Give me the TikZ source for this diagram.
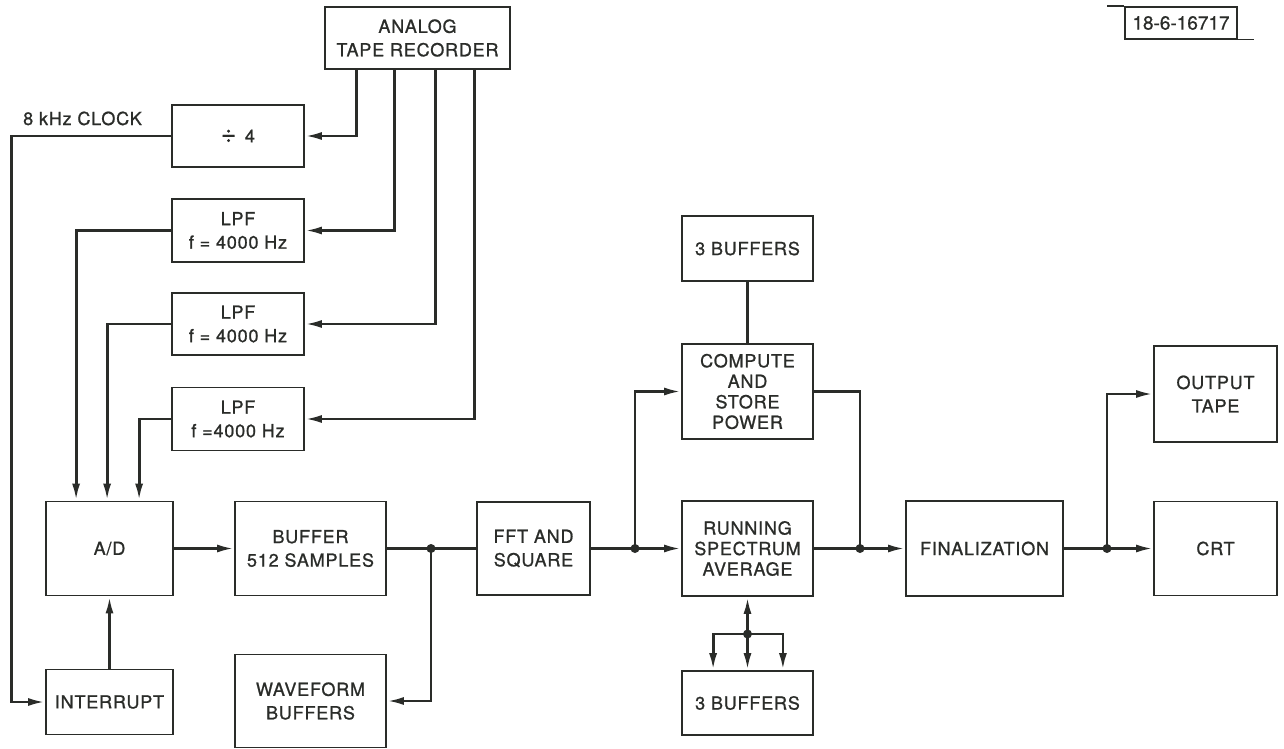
\documentclass[tikz,border=0pt]{standalone}
\usepackage{fontspec}
\setmainfont{TeX Gyre Heros}[LetterSpace=4.5, FakeBold=1]
\newfontfamily\lblfont{TeX Gyre Heros}[FakeBold=0.8]
\usetikzlibrary{arrows.meta,calc}
\definecolor{ink}{HTML}{2A2C29}
\tikzset{
  blk/.style={draw=ink, line width=1.8pt, text=ink, inner sep=0pt, align=center,
    font=\fontsize{18}{23.5}\selectfont},
  blkwh/.style 2 args={blk, minimum width=#1, minimum height=#2},
  tight/.style={font=\fontsize{18}{20.5}\selectfont},
  conn/.style={draw=ink, line width=2.8pt},
  arr/.style={-{Latex[length=17pt,width=8pt]}},
  dot/.style={circle, fill=ink, inner sep=0pt, minimum size=9pt}
}
\begin{document}
\begin{tikzpicture}[x=1pt,y=-1pt]
\useasboundingbox (0,0) rectangle (1284,749);
\fill[white] (0,0) rectangle (1284,749);

% blocks
\node[blkwh={185}{62}] (tape) at (417.5,38) {ANALOG\\TAPE RECORDER};
\node[blkwh={132}{62}] (div) at (238,136) {{\fontsize{26}{23}\selectfont÷}\, 4};
\node[blkwh={132}{63}] (lpf1) at (238,230.5) {LPF\\f = 4000 Hz};
\node[blkwh={132}{62}] (lpf2) at (238,324) {LPF\\f = 4000 Hz};
\node[blkwh={132}{63}] (lpf3) at (238,419) {LPF\\f =4000 Hz};
\node[blkwh={127}{94}] (ad) at (109.5,548.5) {A/D};
\node[blkwh={127}{65}] (intr) at (109.5,702) {INTERRUPT};
\node[blkwh={151}{94}] (buf) at (310.5,548.5) {BUFFER\\512 SAMPLES};
\node[blkwh={151}{93}] (wave) at (310.5,701) {WAVEFORM\\BUFFERS};
\node[blkwh={113}{93}] (fft) at (533.5,548.5) {FFT AND\\SQUARE};
\node[blkwh={131}{65}] (b3t) at (747.5,248.5) {3 BUFFERS};
\node[blkwh={131}{95}, tight] (comp) at (747.5,391.5) {COMPUTE\\AND\\STORE\\POWER};
\node[blkwh={131}{95}, tight] (run) at (747.5,548.5) {RUNNING\\SPECTRUM\\AVERAGE};
\node[blkwh={131}{64}] (b3b) at (747.5,703) {3 BUFFERS};
\node[blkwh={157}{95}] (fin) at (984.5,548.5) {FINALIZATION};
\node[blkwh={123}{96}] (outt) at (1215.5,394) {OUTPUT\\TAPE};
\node[blkwh={123}{94}] (crt) at (1215.5,548.5) {CRT};

% label
\node[anchor=base west, text=ink, inner sep=0pt, font=\fontsize{18}{20}\selectfont] (clk) at (23,125) {8 kHz CLOCK};
\node[draw=ink, line width=1.5pt, text=ink, inner sep=0pt, minimum width=112, minimum height=32,
  font=\lblfont\fontsize{19}{20}\selectfont] (lbl) at (1181,23) {18-6-16717};
\draw[ink, line width=1.5pt] (lbl.north west) -- ++(-17,0);
\draw[ink, line width=1.5pt] (lbl.south east) -- ++(16,0);

% tape recorder outputs
\draw[conn,arr] ([xshift=32]tape.south west) |- (div.east);
\draw[conn,arr] ([xshift=70]tape.south west) |- (lpf1.east);
\draw[conn,arr] ([xshift=111]tape.south west) |- (lpf2.east);
\draw[conn,arr] ([xshift=150]tape.south west) |- (lpf3.east);

% clock
\draw[conn,arr] (div.west) -- ++(-160,0) |- (intr.west);

% filters to A/D
\draw[conn,arr] (lpf1.west) -| ([xshift=31]ad.north west);
\draw[conn,arr] (lpf2.west) -| ([xshift=62]ad.north west);
\draw[conn,arr] (lpf3.west) -| ([xshift=94]ad.north west);

% interrupt to A/D
\draw[conn,arr] (intr.north) -- (ad.south);

% main chain
\draw[conn,arr] (ad.east) -- (buf.west);
\node[dot] (j1) at (431,548.5) {};
\draw[conn] (buf.east) -- (fft.west);
\draw[conn,arr] (j1.center) |- (wave.east);

\node[dot] (j2) at (635,548.5) {};
\draw[conn,arr] (fft.east) -- (run.west);
\draw[conn,arr] (j2.center) |- (comp.west);

\draw[conn] (b3t.south) -- (comp.north);

\node[dot] (j3) at (860,548.5) {};
\draw[conn] (comp.east) -| (j3.center);
\draw[conn,arr] (run.east) -- (fin.west);

\node[dot] (j4) at (1107,548.5) {};
\draw[conn,arr] (fin.east) -- (crt.west);
\draw[conn,arr] (j4.center) |- (outt.west);

% running average <-> buffers
\node[dot] (j5) at (747.5,634) {};
\draw[conn,arr] (j5.center) -- (run.south);
\draw[conn,arr] (j5.center) -| ([xshift=32]b3b.north west);
\draw[conn,arr] (j5.center) -| ([xshift=-31]b3b.north east);
\draw[conn,arr] (j5.center) -- (b3b.north);
\end{tikzpicture}
\end{document}
